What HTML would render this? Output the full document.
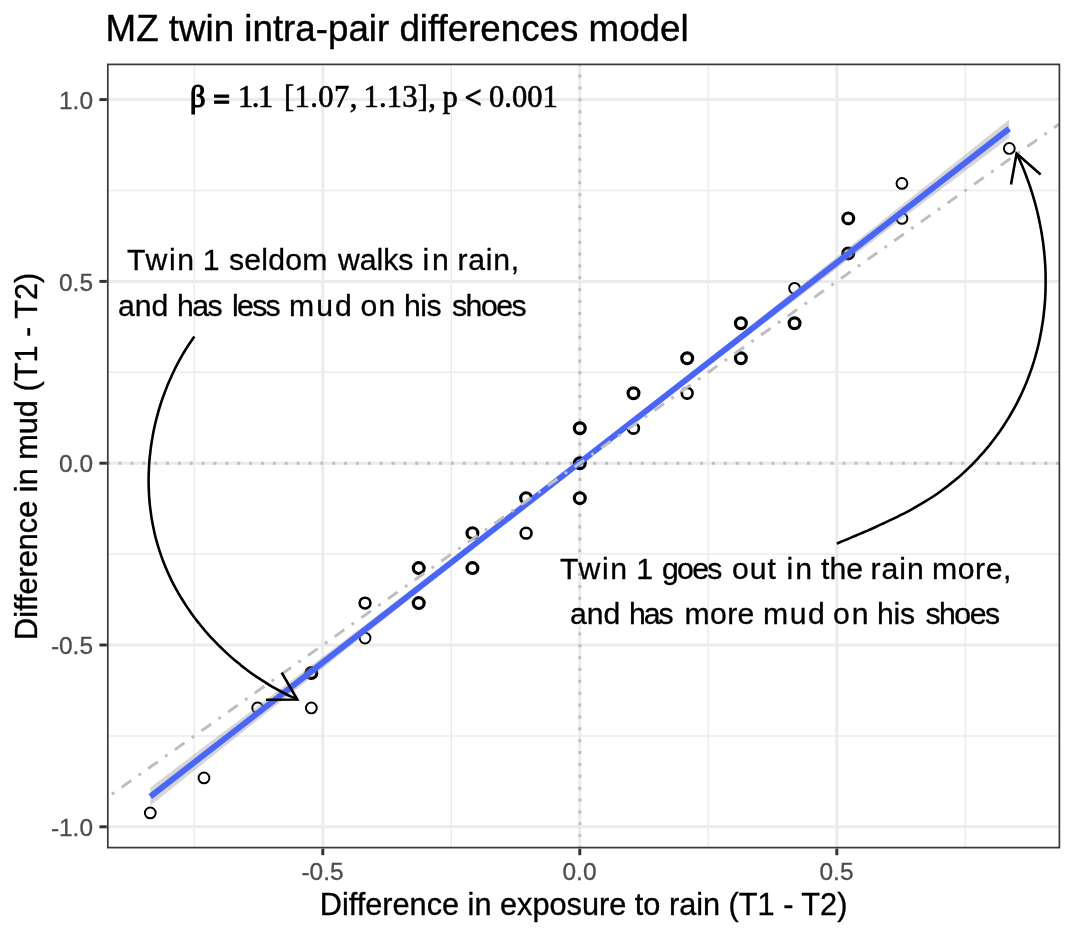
<!DOCTYPE html><html><head><meta charset="utf-8"><title>MZ twin intra-pair differences model</title>
<style>html,body{margin:0;padding:0;background:#fff}svg{display:block}text{font-family:"Liberation Sans",sans-serif}.ax{font-size:24.44px;fill:#4d4d4d;stroke:#4d4d4d;stroke-width:.3px}.ti{font-size:30.7px;fill:#000;stroke:#000;stroke-width:.35px}.an{font-size:30.2px;fill:#000;stroke:#000;stroke-width:.3px}.se{font-family:"Liberation Serif",serif;font-size:30.56px;fill:#000;stroke:#000;stroke-width:.6px}</style></head><body>
<svg width="1075" height="936" viewBox="0 0 1075 936">
<rect width="1075" height="936" fill="#fff"/>
<defs><clipPath id="pc"><rect x="107.8" y="64.4" width="951.6000000000001" height="783.2"/></clipPath></defs>
<g clip-path="url(#pc)">
<line x1="194.30" x2="194.30" y1="64.4" y2="847.6" stroke="#ebebeb" stroke-width="1.48"/>
<line y1="735.90" y2="735.90" x1="107.8" x2="1059.4" stroke="#ebebeb" stroke-width="1.48"/>
<line x1="451.30" x2="451.30" y1="64.4" y2="847.6" stroke="#ebebeb" stroke-width="1.48"/>
<line y1="554.10" y2="554.10" x1="107.8" x2="1059.4" stroke="#ebebeb" stroke-width="1.48"/>
<line x1="708.30" x2="708.30" y1="64.4" y2="847.6" stroke="#ebebeb" stroke-width="1.48"/>
<line y1="372.30" y2="372.30" x1="107.8" x2="1059.4" stroke="#ebebeb" stroke-width="1.48"/>
<line x1="965.30" x2="965.30" y1="64.4" y2="847.6" stroke="#ebebeb" stroke-width="1.48"/>
<line y1="190.50" y2="190.50" x1="107.8" x2="1059.4" stroke="#ebebeb" stroke-width="1.48"/>
<line x1="322.80" x2="322.80" y1="64.4" y2="847.6" stroke="#ebebeb" stroke-width="2.96"/>
<line x1="579.80" x2="579.80" y1="64.4" y2="847.6" stroke="#ebebeb" stroke-width="2.96"/>
<line x1="836.80" x2="836.80" y1="64.4" y2="847.6" stroke="#ebebeb" stroke-width="2.96"/>
<line y1="826.80" y2="826.80" x1="107.8" x2="1059.4" stroke="#ebebeb" stroke-width="2.96"/>
<line y1="645.00" y2="645.00" x1="107.8" x2="1059.4" stroke="#ebebeb" stroke-width="2.96"/>
<line y1="463.20" y2="463.20" x1="107.8" x2="1059.4" stroke="#ebebeb" stroke-width="2.96"/>
<line y1="281.40" y2="281.40" x1="107.8" x2="1059.4" stroke="#ebebeb" stroke-width="2.96"/>
<line y1="99.60" y2="99.60" x1="107.8" x2="1059.4" stroke="#ebebeb" stroke-width="2.96"/>
<line x1="106.72" x2="1064.4" y1="463.20" y2="463.20" stroke="#bebebe" stroke-width="2.96" stroke-dasharray="2.967 8.901"/>
<line y1="848.98" y2="59.400000000000006" x1="579.80" x2="579.80" stroke="#bebebe" stroke-width="2.96" stroke-dasharray="2.967 8.901"/>
<circle cx="150.28" cy="812.90" r="5.4" fill="none" stroke="#000" stroke-width="1.97"/>
<circle cx="203.97" cy="777.93" r="5.4" fill="none" stroke="#000" stroke-width="1.97"/>
<circle cx="257.66" cy="707.99" r="5.4" fill="none" stroke="#000" stroke-width="1.97"/>
<circle cx="311.35" cy="707.99" r="5.4" fill="none" stroke="#000" stroke-width="1.97"/>
<circle cx="311.35" cy="673.02" r="5.4" fill="none" stroke="#000" stroke-width="3.2"/>
<circle cx="365.04" cy="638.05" r="5.4" fill="none" stroke="#000" stroke-width="1.97"/>
<circle cx="365.04" cy="603.08" r="5.4" fill="none" stroke="#000" stroke-width="2.6"/>
<circle cx="418.73" cy="603.08" r="5.4" fill="none" stroke="#000" stroke-width="3.2"/>
<circle cx="418.73" cy="568.11" r="5.4" fill="none" stroke="#000" stroke-width="3.2"/>
<circle cx="472.42" cy="568.11" r="5.4" fill="none" stroke="#000" stroke-width="3.2"/>
<circle cx="472.42" cy="533.14" r="5.4" fill="none" stroke="#000" stroke-width="3.2"/>
<circle cx="526.11" cy="533.14" r="5.4" fill="none" stroke="#000" stroke-width="2.6"/>
<circle cx="526.11" cy="498.17" r="5.4" fill="none" stroke="#000" stroke-width="3.2"/>
<circle cx="579.80" cy="498.17" r="5.4" fill="none" stroke="#000" stroke-width="3.2"/>
<circle cx="579.80" cy="463.20" r="5.4" fill="none" stroke="#000" stroke-width="3.2"/>
<circle cx="579.80" cy="428.23" r="5.4" fill="none" stroke="#000" stroke-width="3.2"/>
<circle cx="633.49" cy="428.23" r="5.4" fill="none" stroke="#000" stroke-width="2.6"/>
<circle cx="633.49" cy="393.26" r="5.4" fill="none" stroke="#000" stroke-width="3.2"/>
<circle cx="687.18" cy="393.26" r="5.4" fill="none" stroke="#000" stroke-width="2.6"/>
<circle cx="687.18" cy="358.29" r="5.4" fill="none" stroke="#000" stroke-width="3.2"/>
<circle cx="740.87" cy="358.29" r="5.4" fill="none" stroke="#000" stroke-width="3.2"/>
<circle cx="740.87" cy="323.32" r="5.4" fill="none" stroke="#000" stroke-width="3.2"/>
<circle cx="794.56" cy="323.32" r="5.4" fill="none" stroke="#000" stroke-width="3.2"/>
<circle cx="794.56" cy="288.35" r="5.4" fill="none" stroke="#000" stroke-width="1.97"/>
<circle cx="848.25" cy="253.38" r="5.4" fill="none" stroke="#000" stroke-width="3.2"/>
<circle cx="848.25" cy="218.41" r="5.4" fill="none" stroke="#000" stroke-width="3.2"/>
<circle cx="901.94" cy="218.41" r="5.4" fill="none" stroke="#000" stroke-width="1.97"/>
<circle cx="901.94" cy="183.44" r="5.4" fill="none" stroke="#000" stroke-width="1.97"/>
<circle cx="1009.32" cy="148.47" r="5.4" fill="none" stroke="#000" stroke-width="1.97"/>
<polygon points="150.3,787.4 171.8,771.2 193.2,754.9 214.7,738.6 236.2,722.4 257.7,706.1 279.1,689.8 300.6,673.5 322.1,657.3 343.6,641.0 365.0,624.7 386.5,608.4 408.0,592.1 429.4,575.8 450.9,559.4 472.4,543.1 493.9,526.7 515.3,510.3 536.8,493.8 558.3,477.3 579.8,460.6 601.2,443.9 622.7,427.0 644.2,410.1 665.6,393.1 687.1,376.1 708.6,359.0 730.1,342.0 751.5,324.9 773.0,307.8 794.5,290.7 815.9,273.6 837.4,256.5 858.9,239.3 880.4,222.2 901.8,205.1 923.3,188.0 944.8,170.8 966.3,153.7 987.7,136.6 1009.2,119.4 1009.2,137.8 987.7,154.0 966.3,170.3 944.8,186.6 923.3,202.8 901.8,219.1 880.4,235.4 858.9,251.7 837.4,267.9 815.9,284.2 794.5,300.5 773.0,316.8 751.5,333.1 730.1,349.4 708.6,365.8 687.1,382.1 665.6,398.5 644.2,414.9 622.7,431.4 601.2,447.9 579.8,464.6 558.3,481.3 536.8,498.2 515.3,515.1 493.9,532.1 472.4,549.1 450.9,566.2 429.4,583.2 408.0,600.3 386.5,617.4 365.0,634.5 343.6,651.6 322.1,668.7 300.6,685.9 279.1,703.0 257.7,720.1 236.2,737.2 214.7,754.4 193.2,771.5 171.8,788.6 150.3,805.8" fill="#999999" fill-opacity="0.4"/>
<line x1="150.3" y1="796.6" x2="1009.2" y2="128.6" stroke="#4966f7" stroke-width="5.93"/>
<line x1="85.18" y1="813.09" x2="1079.40" y2="109.79" stroke="#bebebe" stroke-width="2.96" stroke-dasharray="2.967 8.901 11.868 8.901"/>
</g>
<g clip-path="url(#pc)" fill="none" stroke="#000" stroke-width="2.6">
<path d="M194.4,336.4 C193.7,337.4 191.6,340.4 190.2,342.5 C188.9,344.5 187.5,346.6 186.2,348.6 C184.9,350.7 183.7,352.8 182.4,354.9 C181.2,357.1 180.0,359.2 178.8,361.4 C177.7,363.5 176.5,365.7 175.4,367.9 C174.3,370.1 173.3,372.3 172.2,374.5 C171.2,376.8 170.2,379.0 169.2,381.3 C168.2,383.5 167.3,385.8 166.4,388.1 C165.5,390.4 164.6,392.7 163.8,395.0 C162.9,397.3 162.1,399.6 161.3,402.0 C160.6,404.3 159.8,406.7 159.1,409.0 C158.4,411.4 157.8,413.7 157.1,416.1 C156.5,418.5 155.9,420.9 155.3,423.3 C154.8,425.7 154.2,428.1 153.7,430.5 C153.3,432.9 152.8,435.3 152.4,437.7 C151.9,440.2 151.6,442.6 151.2,445.0 C150.9,447.4 150.5,449.9 150.3,452.3 C150.0,454.8 149.7,457.2 149.5,459.6 C149.3,462.1 149.1,464.5 149.0,467.0 C148.9,469.4 148.8,471.9 148.7,474.3 C148.6,476.8 148.6,479.2 148.6,481.7 C148.6,484.1 148.7,486.6 148.8,489.0 C148.9,491.4 149.0,493.9 149.1,496.3 C149.3,498.7 149.5,501.2 149.7,503.6 C150.0,506.0 150.2,508.4 150.6,510.9 C150.9,513.3 151.2,515.7 151.6,518.1 C152.0,520.5 152.4,522.9 152.9,525.3 C153.4,527.6 153.9,530.0 154.4,532.4 C154.9,534.7 155.5,537.1 156.1,539.4 C156.8,541.8 157.4,544.1 158.1,546.4 C158.8,548.8 159.6,551.1 160.4,553.4 C161.1,555.7 162.0,558.0 162.8,560.2 C163.7,562.5 164.6,564.8 165.5,567.0 C166.4,569.2 167.4,571.5 168.4,573.7 C169.4,575.9 170.5,578.1 171.5,580.3 C172.6,582.5 173.7,584.6 174.9,586.8 C176.0,588.9 177.2,591.1 178.4,593.2 C179.7,595.3 180.9,597.4 182.2,599.5 C183.5,601.5 184.8,603.6 186.1,605.6 C187.5,607.7 188.9,609.7 190.3,611.7 C191.7,613.7 193.1,615.7 194.6,617.7 C196.1,619.6 197.6,621.6 199.1,623.5 C200.6,625.4 202.2,627.3 203.8,629.2 C205.3,631.1 207.0,632.9 208.6,634.8 C210.2,636.6 211.9,638.4 213.6,640.2 C215.3,642.0 217.0,643.8 218.8,645.5 C220.5,647.2 222.3,648.9 224.1,650.6 C225.8,652.3 227.7,654.0 229.5,655.6 C231.3,657.3 233.2,658.9 235.1,660.5 C237.0,662.1 238.9,663.6 240.8,665.2 C242.7,666.7 244.7,668.2 246.7,669.7 C248.6,671.2 250.6,672.6 252.6,674.1 C254.6,675.5 256.7,676.9 258.7,678.2 C260.8,679.6 262.8,680.9 264.9,682.2 C267.0,683.6 269.1,684.8 271.2,686.1 C273.3,687.3 275.4,688.5 277.6,689.7 C279.7,690.9 281.9,692.1 284.1,693.2 C286.3,694.3 288.4,695.4 290.6,696.4 C292.9,697.5 296.2,699.0 297.3,699.5"/>
<path d="M836.8,543.6 C838.1,543.1 841.9,541.4 844.5,540.4 C847.0,539.3 849.6,538.2 852.2,537.1 C854.7,536.0 857.3,535.0 859.9,533.9 C862.4,532.8 865.0,531.7 867.5,530.6 C870.1,529.4 872.6,528.3 875.2,527.2 C877.7,526.1 880.3,524.9 882.8,523.7 C885.3,522.6 887.8,521.4 890.3,520.2 C892.9,519.0 895.4,517.8 897.8,516.6 C900.3,515.3 902.8,514.1 905.3,512.8 C907.7,511.5 910.2,510.2 912.6,508.8 C915.0,507.5 917.4,506.1 919.8,504.7 C922.2,503.3 924.6,501.9 926.9,500.4 C929.3,499.0 931.6,497.5 933.9,496.0 C936.2,494.4 938.5,492.9 940.7,491.2 C943.0,489.6 945.2,488.0 947.4,486.3 C949.6,484.6 951.8,482.9 953.9,481.1 C956.1,479.3 958.2,477.5 960.3,475.7 C962.4,473.8 964.4,471.9 966.5,470.0 C968.5,468.1 970.5,466.1 972.5,464.2 C974.4,462.2 976.4,460.1 978.3,458.1 C980.2,456.0 982.0,453.9 983.9,451.8 C985.7,449.7 987.5,447.6 989.3,445.4 C991.0,443.2 992.7,441.0 994.4,438.7 C996.1,436.5 997.8,434.2 999.4,432.0 C1001.0,429.7 1002.6,427.4 1004.1,425.0 C1005.6,422.7 1007.1,420.3 1008.6,417.9 C1010.0,415.5 1011.5,413.1 1012.8,410.7 C1014.2,408.3 1015.5,405.8 1016.8,403.3 C1018.1,400.9 1019.3,398.4 1020.5,395.9 C1021.7,393.3 1022.9,390.8 1024.0,388.3 C1025.1,385.7 1026.2,383.2 1027.2,380.6 C1028.2,378.0 1029.2,375.4 1030.1,372.8 C1031.1,370.2 1032.0,367.6 1032.8,364.9 C1033.7,362.3 1034.5,359.6 1035.2,357.0 C1036.0,354.3 1036.7,351.6 1037.4,349.0 C1038.1,346.3 1038.7,343.6 1039.3,340.9 C1039.9,338.2 1040.4,335.4 1040.9,332.7 C1041.5,330.0 1041.9,327.3 1042.3,324.5 C1042.8,321.8 1043.2,319.0 1043.5,316.3 C1043.8,313.5 1044.1,310.8 1044.4,308.0 C1044.7,305.2 1044.9,302.5 1045.1,299.7 C1045.2,296.9 1045.4,294.1 1045.5,291.4 C1045.6,288.6 1045.6,285.8 1045.6,283.0 C1045.7,280.2 1045.6,277.5 1045.6,274.7 C1045.5,271.9 1045.4,269.1 1045.3,266.3 C1045.1,263.5 1044.9,260.8 1044.7,258.0 C1044.5,255.2 1044.2,252.4 1043.9,249.6 C1043.6,246.9 1043.3,244.1 1042.9,241.3 C1042.5,238.6 1042.1,235.8 1041.6,233.1 C1041.2,230.3 1040.7,227.6 1040.1,224.8 C1039.6,222.1 1039.0,219.3 1038.4,216.6 C1037.8,213.9 1037.2,211.2 1036.5,208.5 C1035.8,205.8 1035.1,203.1 1034.3,200.4 C1033.5,197.7 1032.7,195.0 1031.9,192.4 C1031.1,189.7 1030.2,187.1 1029.3,184.4 C1028.4,181.8 1027.4,179.2 1026.4,176.5 C1025.5,173.9 1024.4,171.3 1023.4,168.8 C1022.3,166.2 1021.2,163.6 1020.1,161.1 C1019.0,158.5 1017.2,154.8 1016.6,153.5"/>
<path d="M266,699.8 L297.3,699.5 L281.7,672.7" stroke-linejoin="miter"/>
<path d="M1040.6,174.4 L1016.6,153.5 L1011,184.6" stroke-linejoin="miter"/>
</g>
<text class="an"><tspan x="127.00" y="270.0" style="letter-spacing:1.667px">Twin</tspan> <tspan x="202.70" y="270.0">1</tspan> <tspan x="229.00" y="270.0" style="letter-spacing:0.200px">seldom</tspan> <tspan x="338.00" y="270.0" style="letter-spacing:-0.050px">walks</tspan> <tspan x="422.60" y="270.0" style="letter-spacing:2.800px">in</tspan> <tspan x="457.60" y="270.0" style="letter-spacing:0.700px">rain,</tspan></text>
<text class="an"><tspan x="118.00" y="316.0">and</tspan> <tspan x="177.00" y="316.0" style="letter-spacing:-1.500px">has</tspan> <tspan x="232.00" y="316.0" style="letter-spacing:-1.667px">less</tspan> <tspan x="289.00" y="316.0" style="letter-spacing:2.000px">mud</tspan> <tspan x="360.40" y="316.0" style="letter-spacing:1.200px">on</tspan> <tspan x="404.00" y="316.0" style="letter-spacing:-0.500px">his</tspan> <tspan x="452.00" y="316.0" style="letter-spacing:-1.500px">shoes</tspan></text>
<text class="an"><tspan x="560.00" y="578.6" style="letter-spacing:1.667px">Twin</tspan> <tspan x="636.20" y="578.6">1</tspan> <tspan x="662.00" y="578.6" style="letter-spacing:-1.667px">goes</tspan> <tspan x="732.00" y="578.6" style="letter-spacing:1.000px">out</tspan> <tspan x="786.40" y="578.6" style="letter-spacing:2.200px">in</tspan> <tspan x="821.00" y="578.6">the</tspan> <tspan x="870.60" y="578.6" style="letter-spacing:0.934px">rain</tspan> <tspan x="932.00" y="578.6" style="letter-spacing:0.550px">more,</tspan></text>
<text class="an"><tspan x="570.00" y="624.0">and</tspan> <tspan x="629.00" y="624.0" style="letter-spacing:-2.000px">has</tspan> <tspan x="684.40" y="624.0" style="letter-spacing:0.400px">more</tspan> <tspan x="763.00" y="624.0" style="letter-spacing:1.500px">mud</tspan> <tspan x="833.00" y="624.0" style="letter-spacing:2.000px">on</tspan> <tspan x="877.00" y="624.0" style="letter-spacing:-0.250px">his</tspan> <tspan x="925.40" y="624.0" style="letter-spacing:-1.450px">shoes</tspan></text>
<text class="se"><tspan x="190.00" y="107.4" style="stroke-width:1.2px">β</tspan> <tspan x="213.00" y="109.6" style="stroke-width:.9px" font-weight="bold">=</tspan> <tspan x="238.00" y="107.4" style="letter-spacing:-1.500px">1.1</tspan> <tspan x="284.00" y="107.4" style="letter-spacing:0.400px">[1.07,</tspan> <tspan x="363.40" y="107.4" style="letter-spacing:0.240px">1.13],</tspan> <tspan x="442.50" y="107.4">p</tspan> <tspan x="464.60" y="108.4" font-weight="bold">&lt;</tspan> <tspan x="489.00" y="107.4">0.001</tspan></text>
<rect x="107.8" y="64.4" width="951.6000000000001" height="783.2" fill="none" stroke="#383838" stroke-width="1.7"/>
<line x1="99.4" x2="106.8" y1="826.80" y2="826.80" stroke="#333" stroke-width="2.96"/>
<text class="ax" text-anchor="end" x="93" y="836.00">-1.0</text>
<line x1="99.4" x2="106.8" y1="645.00" y2="645.00" stroke="#333" stroke-width="2.96"/>
<text class="ax" text-anchor="end" x="93" y="654.20">-0.5</text>
<line x1="99.4" x2="106.8" y1="463.20" y2="463.20" stroke="#333" stroke-width="2.96"/>
<text class="ax" text-anchor="end" x="93" y="472.40">0.0</text>
<line x1="99.4" x2="106.8" y1="281.40" y2="281.40" stroke="#333" stroke-width="2.96"/>
<text class="ax" text-anchor="end" x="93" y="290.60">0.5</text>
<line x1="99.4" x2="106.8" y1="99.60" y2="99.60" stroke="#333" stroke-width="2.96"/>
<text class="ax" text-anchor="end" x="93" y="108.80">1.0</text>
<line y1="848.6" y2="855.2" x1="322.80" x2="322.80" stroke="#333" stroke-width="2.96"/>
<text class="ax" text-anchor="middle" x="322.50" y="879.6">-0.5</text>
<line y1="848.6" y2="855.2" x1="579.80" x2="579.80" stroke="#333" stroke-width="2.96"/>
<text class="ax" text-anchor="middle" x="579.50" y="879.6">0.0</text>
<line y1="848.6" y2="855.2" x1="836.80" x2="836.80" stroke="#333" stroke-width="2.96"/>
<text class="ax" text-anchor="middle" x="836.50" y="879.6">0.5</text>
<text class="ti" text-anchor="middle" x="583.6" y="915.1">Difference in exposure to rain (T1 - T2)</text>
<text class="ti" text-anchor="middle" transform="translate(36.9,456.4) rotate(-90)">Difference in mud (T1 - T2)</text>
<text x="105.6" y="40.8" style="font-size:36.72px;fill:#000;stroke:#000;stroke-width:.4px">MZ twin intra-pair differences model</text>
</svg></body></html>
